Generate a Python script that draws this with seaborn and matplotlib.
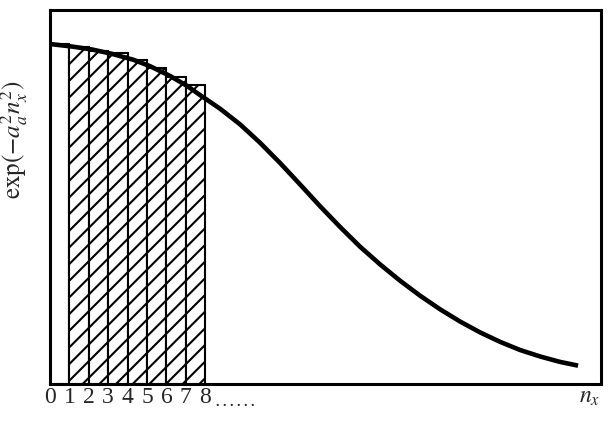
import numpy as np
import pandas as pd
import matplotlib
matplotlib.use('Agg')
import matplotlib.pyplot as plt
import seaborn as sns

sns.set_style('white')
plt.rcParams['font.family'] = ['Liberation Serif', 'DejaVu Serif']
plt.rcParams['mathtext.fontset'] = 'stix'
plt.rcParams['hatch.linewidth'] = 1.5
plt.rcParams['hatch.color'] = 'black'

# bars: one per unit interval, n = 0..7 (centres at n + 0.5)
bar_n = [0.5, 1.5, 2.5, 3.5, 4.5, 5.5, 6.5, 7.5]
bar_h = [1.000, 0.991, 0.979, 0.974, 0.953, 0.929, 0.903, 0.879]

# smooth curve exp(-a^2 n^2)
curve_n = [0.00, 1.08, 2.16, 3.20, 4.28, 5.15, 6.19, 7.06, 7.73, 8.76, 9.79,
           10.82, 11.86, 12.89, 13.92, 14.95, 15.98, 17.01, 18.04, 19.07,
           20.10, 21.13, 22.16, 23.20, 24.23, 25.26, 26.29, 27.22]
curve_v = [1.000, 0.993, 0.984, 0.971, 0.954, 0.935, 0.906, 0.877, 0.850, 0.810, 0.764,
           0.710, 0.650, 0.587, 0.523, 0.462, 0.404, 0.352, 0.304, 0.260,
           0.220, 0.184, 0.152, 0.124, 0.100, 0.081, 0.065, 0.054]

tick_pos = [0, 1, 2, 3, 4, 5, 6, 7, 8, 27.8]
tick_lab = ['0', '1', '2', '3', '4', '5', '6', '7', '8', '$n_x$']

bars = pd.DataFrame({'n': bar_n, 'h': bar_h})
curve = pd.DataFrame({'n': curve_n, 'v': curve_v})

fig = plt.figure(figsize=(6.11, 4.28), dpi=100)
ax = fig.add_axes([0.0818, 0.1028, 0.9018, 0.8738])

sns.barplot(data=bars, x='n', y='h', native_scale=True, width=1,
            color='white', saturation=1, edgecolor='black', linewidth=1.5,
            errorbar=None, ax=ax, zorder=1)
for i, p in enumerate(ax.patches):
    if i > 0:
        p.set_hatch('//')

sns.lineplot(data=curve, x='n', y='v', color='black', linewidth=3.3,
             solid_capstyle='butt', solid_joinstyle='round', ax=ax, zorder=3)

ax.set_xlim(0, 28.4)
ax.set_ylim(0, 1.1)
ax.set_xticks(tick_pos)
ax.set_xticklabels(tick_lab, fontsize=17)
ax.set_yticks([])
ax.tick_params(axis='x', length=0, pad=2)
for s in ax.spines.values():
    s.set_linewidth(2.2)
    s.set_color('black')
    s.set_visible(True)

ax.set_xlabel('')
ax.set_ylabel(r'$\mathrm{exp}(-a_a^2 n_x^2)$', fontsize=18)
ax.yaxis.set_label_coords(-0.036, 0.652)

ax.text(8.55, -0.05, '. . . . . .', transform=ax.get_xaxis_transform(),
        fontsize=10, fontweight='bold', ha='left', va='center')

fig.savefig('out.png', dpi=100)
